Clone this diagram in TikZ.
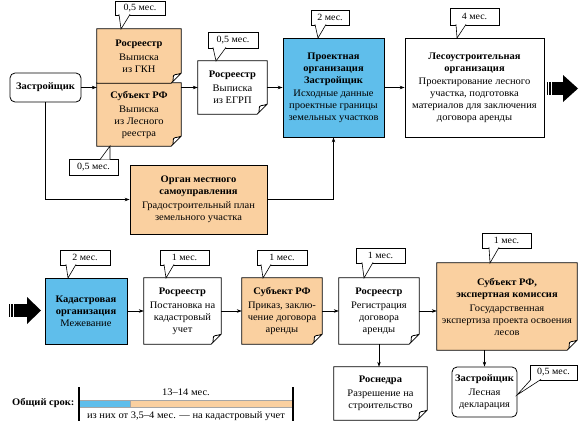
\documentclass[tikz,border=0pt]{standalone}
\usepackage{fontspec}
\setmainfont{Liberation Serif}[FakeStretch=1.05]
\usetikzlibrary{arrows.meta,backgrounds,calc}
\definecolor{org}{RGB}{250,208,160}
\definecolor{blu}{RGB}{95,190,235}
\newcommand\notebg[2]{%
  \filldraw[boxline,fill=#2] let \p1=(#1.north west),\p2=(#1.south east) in
    (\x1,\y1) -- (\x2,\y1) -- (\x2,\y2+10pt) -- (\x2-10pt,\y2) -- (\x1,\y2) -- cycle
    (\x2,\y2+10pt) .. controls (\x2-4pt,\y2+8pt) and (\x2-9pt,\y2+10pt) .. (\x2-8pt,\y2+5pt)
    .. controls (\x2-8pt,\y2+2pt) .. (\x2-10pt,\y2);}
\newcommand\ptr[3]{\fill[white] #1 -- #2 -- #3 -- cycle; \draw[line width=0.6pt] #1 -- #2 -- #3;}
\begin{document}
\begin{tikzpicture}[x=1pt,y=-1pt,
  every node/.style={font=\fontsize{10}{12}\selectfont, align=center, inner sep=0pt},
  box/.style={draw=black, line width=0.8pt},
  boxline/.style={draw=black, line width=0.8pt},
  rbox/.style={draw=black, line width=0.8pt, rounded corners=5pt, fill=white},
  call/.style={draw=black, line width=0.6pt, fill=white, font=\fontsize{9.5}{10}\selectfont},
  conn/.style={line width=0.6pt, -{Stealth[length=5pt,width=3.5pt]}},
]
\useasboundingbox (0,0) rectangle (586,424);

% ---------- top row ----------
\node[rbox, minimum width=71pt, minimum height=29pt] (zastr1) at (45.5,87.5) {\textbf{Застройщик}};
\node[minimum width=84pt, minimum height=54pt] (gkn) at (139,56) {\textbf{Росреестр}\\[2pt]Выписка\\из ГКН};
\node[minimum width=84pt, minimum height=63pt] (subj) at (139,114.5) {\textbf{Субъект РФ}\\[2pt]Выписка\\из Лесного\\реестра};
\node[minimum width=69pt, minimum height=53pt] (egrp) at (232.5,87.5) {\textbf{Росреестр}\\[2pt]Выписка\\из ЕГРП};
\node[box, fill=blu, minimum width=101pt, minimum height=99pt] (proekt) at (333.5,87.5)
  {\textbf{Проектная}\\\textbf{организация}\\\textbf{Застройщик}\\[1pt]Исходные данные\\проектные границы\\земельных участков};
\node[box, fill=white, minimum width=139pt, minimum height=99pt] (les) at (474.5,87.5)
  {\textbf{Лесоустроительная}\\\textbf{организация}\\[1pt]Проектирование лесного\\участка, подготовка\\материалов для заключения\\договора аренды};
\node[box, fill=org, minimum width=137pt, minimum height=69pt] (organ) at (198.5,199.5)
  {\textbf{Орган местного}\\\textbf{самоуправления}\\[2pt]Градостроительный план\\земельного участка};

% ---------- bottom row ----------
\node[box, fill=blu, minimum width=82pt, minimum height=66pt] (kadastr) at (86,311)
  {\textbf{Кадастровая}\\\textbf{организация}\\Межевание};
\node[minimum width=77pt, minimum height=66pt] (ros2) at (182.5,311) {\textbf{Росреестр}\\[2pt]Постановка на\\кадастровый\\учет};
\node[minimum width=80pt, minimum height=66pt] (subj2) at (282,311) {\textbf{Субъект РФ}\\[2pt]Приказ, заклю-\\чение договора\\аренды};
\node[minimum width=80pt, minimum height=66pt] (ros3) at (379,311) {\textbf{Росреестр}\\[2pt]Регистрация\\договора\\аренды};
\node[minimum width=140pt, minimum height=87pt] (subj3) at (507,306.5)
  {\textbf{Субъект РФ,}\\\textbf{экспертная комиссия}\\[2pt]Государственная\\экспертиза проекта освоения\\лесов};
\node[minimum width=93pt, minimum height=53pt] (nedra) at (380.5,393.5) {\textbf{Роснедра}\\[2pt]Разрешение на\\строительство};
\node[rbox, minimum width=65pt, minimum height=50pt] (zastr2) at (484.5,392) {\textbf{Застройщик}\\[2pt]Лесная\\декларация};

\begin{scope}[on background layer]
  \notebg{subj}{org}
  \notebg{gkn}{org}
  \notebg{egrp}{white}
  \notebg{ros2}{white}
  \notebg{subj2}{org}
  \notebg{ros3}{white}
  \notebg{subj3}{org}
  \notebg{nedra}{white}
\end{scope}

% ---------- callouts ----------
\node[call, minimum width=50pt, minimum height=14pt] (c1) at (140,8) {0,5 мес.};
\ptr{(119,14.4)}{(121,29)}{(130,14.4)}
\node[call, minimum width=49pt, minimum height=16pt] (c2) at (93.5,167) {0,5 мес.};
\ptr{(100,159.6)}{(110,146)}{(110,159.6)}
\node[call, minimum width=50pt, minimum height=16pt] (c3) at (233,40) {0,5 мес.};
\ptr{(213,47.4)}{(216,61)}{(226,47.4)}
\node[call, minimum width=38pt, minimum height=15pt] (c4) at (330,17.5) {2 мес.};
\ptr{(315,24.4)}{(318,38)}{(326,24.4)}
\node[call, minimum width=49pt, minimum height=17pt] (c5) at (474.5,16.5) {4 мес.};
\ptr{(456,24.4)}{(457,38)}{(466,24.4)}
\node[call, minimum width=50pt, minimum height=15pt] (c6) at (85,257.5) {2 мес.};
\ptr{(66,264.4)}{(68,278)}{(76,264.4)}
\node[call, minimum width=49pt, minimum height=15pt] (c7) at (184.5,257.5) {1 мес.};
\ptr{(164,264.4)}{(166,278)}{(174,264.4)}
\node[call, minimum width=50pt, minimum height=15pt] (c8) at (282,257.5) {1 мес.};
\ptr{(261,264.4)}{(263,278)}{(271,264.4)}
\node[call, minimum width=49pt, minimum height=15pt] (c9) at (380.5,255.5) {1 мес.};
\ptr{(362,262.4)}{(364,278)}{(373,262.4)}
\node[call, minimum width=49pt, minimum height=15pt] (c10) at (506.5,240.5) {1 мес.};
\ptr{(489,247.4)}{(490,263)}{(499,247.4)}
\node[call, minimum width=47pt, minimum height=15pt] (c11) at (553.5,372.5) {0,5 мес.};
\ptr{(531,379.4)}{(517,395)}{(541,379.4)}

% ---------- connectors ----------
\draw[conn] (zastr1.east) -- (zastr1.east -| subj.west);
\draw[conn] (egrp.west -| subj.east) -- (egrp.west);
\draw[conn] (egrp.east) -- (egrp.east -| proekt.west);
\draw[conn] (proekt.east) -- (les.west);
\draw[conn] (zastr1.south) |- (organ.west);
\draw[conn] (organ.east) -| (proekt.south);
\draw[conn] (kadastr.east) -- (ros2.west);
\draw[conn] (ros2.east) -- (subj2.west);
\draw[conn] (subj2.east) -- (ros3.west);
\draw[conn] (ros3.east) -- (ros3.east -| subj3.west);
\draw[conn] (ros3.south) -- (ros3.south |- nedra.north);
\draw[conn] (subj3.south -| zastr2.north) -- (zastr2.north);

% ---------- big arrows ----------
\fill (547,82) rectangle (548.3,95);
\fill (549.3,82) rectangle (550.6,95);
\fill (551.6,82) rectangle (563.5,95);
\fill (563,75) -- (578,88.5) -- (563,102) -- cycle;
\fill (9,304) rectangle (10.3,317);
\fill (11.3,304) rectangle (12.6,317);
\fill (13.6,304) rectangle (27.5,317);
\fill (27,297) -- (41,310.5) -- (27,324) -- cycle;

% ---------- total time ----------
\node[anchor=west] (total) at (12,403) {\textbf{Общий срок:}};
\draw[fill=blu, draw=gray!70, line width=0.4pt] (79,400.5) rectangle (130,407);
\draw[fill=org, draw=gray!70, line width=0.4pt] (130,400.5) rectangle (293,407);
\draw[line width=1.2pt] (79,387) -- (79,421);
\draw[line width=1.2pt] (293,387) -- (293,421);
\node (months) at (186,392) {13–14 мес.};
\node (kad) at (186,416) {из них от 3,5–4 мес. — на кадастровый учет};
\end{tikzpicture}
\end{document}
